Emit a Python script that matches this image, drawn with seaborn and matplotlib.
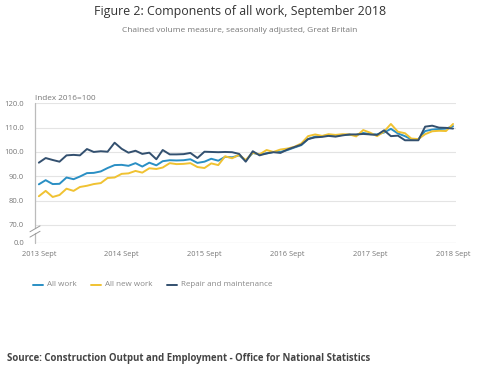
# Figure 2: Components of all work, September 2018

import pandas as pd
import seaborn as sns
import matplotlib.pyplot as plt

# ------------------------------------------------------
# DATOS (Index 2016=100, Sept 2013 - Sept 2018)
# ------------------------------------------------------

meses = pd.date_range("2013-09-01", "2018-09-01", freq="MS")

all_work = [
    86.7, 88.4, 86.8, 86.9, 89.5, 88.8, 89.9, 91.3, 91.4, 92.0, 93.4, 94.6,
    94.7, 94.3, 95.4, 94.0, 95.6, 94.5, 96.2, 96.6, 96.5, 96.6, 97.0, 95.5,
    96.0, 97.2, 96.4, 98.0, 97.8, 98.6, 96.4, 99.6, 99.0, 99.4, 100.0, 100.0,
    100.8, 101.8, 102.8, 105.3, 106.3, 106.5, 106.8, 106.7, 107.0, 107.0, 107.0, 107.8,
    107.3, 107.2, 108.0, 109.5, 107.6, 106.5, 105.2, 105.2, 108.6, 109.2, 109.4, 109.6,
    110.6,
]

all_new_work = [
    81.8, 84.0, 81.5, 82.3, 84.9, 84.0, 85.6, 86.1, 86.8, 87.2, 89.3, 89.5,
    91.0, 91.2, 92.2, 91.5, 93.3, 93.0, 93.6, 95.4, 95.0, 95.1, 95.4, 93.8,
    93.4, 95.3, 94.6, 98.2, 97.4, 98.8, 96.7, 99.7, 99.0, 100.8, 100.0, 101.0,
    101.4, 102.1, 103.5, 106.5, 107.2, 106.6, 107.3, 107.0, 107.3, 107.2, 106.4, 109.0,
    107.9, 106.5, 108.4, 111.5, 108.3, 107.7, 105.5, 105.3, 107.3, 108.5, 108.7, 108.6,
    111.5,
]

repair = [
    95.6, 97.5, 96.7, 96.0, 98.6, 98.8, 98.6, 101.2, 100.0, 100.3, 100.1, 103.8,
    101.3, 99.7, 100.5, 99.2, 99.7, 97.0, 100.8, 99.0, 99.0, 99.1, 99.6, 97.5,
    100.1, 100.0, 99.9, 100.0, 99.9, 99.2, 96.0, 100.3, 98.6, 99.4, 99.9, 99.6,
    101.0, 102.0, 103.0, 105.3, 106.0, 106.2, 106.6, 106.3, 106.8, 107.2, 107.2, 107.4,
    107.2, 107.0, 108.9, 106.5, 106.7, 104.8, 104.8, 104.8, 110.4, 110.8, 110.0, 109.9,
    109.6,
]

series = ["All work", "All new work", "Repair and maintenance"]
colores = ["#2a8fc4", "#f0c232", "#33506f"]

y_ticks = [70, 80, 90, 100, 110, 120]
y_break = 62.7   # posicion donde se dibuja el "0.0" tras el corte del eje

# ------------------------------------------------------
# TABLA LARGA
# ------------------------------------------------------

df = pd.DataFrame({"fecha": meses, "All work": all_work,
                   "All new work": all_new_work,
                   "Repair and maintenance": repair})
df = df.melt(id_vars="fecha", var_name="serie", value_name="valor")

# ------------------------------------------------------
# FIGURA
# ------------------------------------------------------

sns.set_style("white")
plt.rcParams["font.family"] = ["Open Sans", "DejaVu Sans"]

fig = plt.figure(figsize=(4.8, 3.76), dpi=100)
ax = fig.add_axes([35 / 480, 1 - 242.7 / 376, 421 / 480, 139.4 / 376])

sns.lineplot(data=df, x="fecha", y="valor", hue="serie", hue_order=series,
             palette=colores, linewidth=1.4, ax=ax, legend=False)

ax.set_xlim(meses[0] - pd.Timedelta(days=17), meses[-1] + pd.Timedelta(days=13))
ax.set_ylim(y_break, 120)

for v in y_ticks:
    ax.axhline(v, color="#e4e4e4", linewidth=0.8, zorder=0)
ax.axhline(y_break, color="#dcdcdc", linewidth=0.9, zorder=0)

ax.set_yticks([y_break] + y_ticks)
ax.set_yticklabels(["0.0"] + [f"{v:.1f}" for v in y_ticks])

sept = pd.date_range("2013-09-01", "2018-09-01", freq="12MS")
ax.set_xticks(sept)
ax.set_xticklabels([f"{d.year} Sept" for d in sept])

ax.tick_params(axis="y", length=0, pad=8, labelsize=5.5, labelcolor="#777777")
ax.tick_params(axis="x", length=4, width=0.8, color="#d0d0d0", pad=2,
               labelsize=5.4, labelcolor="#777777")

for s in ax.spines.values():
    s.set_visible(False)

# eje vertical con corte
tr = ax.get_yaxis_transform()
ax.plot([0, 0], [68.6, 120], color="#bbbbbb", linewidth=0.9, transform=tr, clip_on=False)
ax.plot([0, 0], [y_break, 66.6], color="#bbbbbb", linewidth=0.9, transform=tr, clip_on=False)
for yb in [66.2, 68.4]:
    ax.plot([-0.012, 0.012], [yb - 1.2, yb + 1.2], color="#999999", linewidth=0.7,
            transform=tr, clip_on=False)

ax.set_xlabel("")
ax.set_ylabel("")

# ------------------------------------------------------
# TEXTOS
# ------------------------------------------------------

fig.text(0.5, 1 - 12 / 376, "Figure 2: Components of all work, September 2018",
         ha="center", va="center", fontsize=8.9, color="#333333")
fig.text(0.5, 1 - 30 / 376, "Chained volume measure, seasonally adjusted, Great Britain",
         ha="center", va="center", fontsize=6.0, color="#777777")
fig.text(35 / 480, 1 - 98 / 376, "Index 2016=100", ha="left", va="center",
         fontsize=5.9, color="#777777")

# leyenda manual
leg_x = [33, 91, 167]
for x0, nombre, c in zip(leg_x, series, colores):
    fig.add_artist(plt.Line2D([x0 / 480, (x0 + 10) / 480], [1 - 285 / 376] * 2,
                              color=c, linewidth=1.4))
    fig.text((x0 + 14) / 480, 1 - 285 / 376, nombre, ha="left", va="center",
             fontsize=5.8, color="#888888")

fig.text(7 / 480, 1 - 358 / 376,
         "Source: Construction Output and Employment - Office for National Statistics",
         ha="left", va="center", fontsize=6.9, fontweight="bold", color="#444444")

plt.savefig("out.png", dpi=100)
plt.close()
